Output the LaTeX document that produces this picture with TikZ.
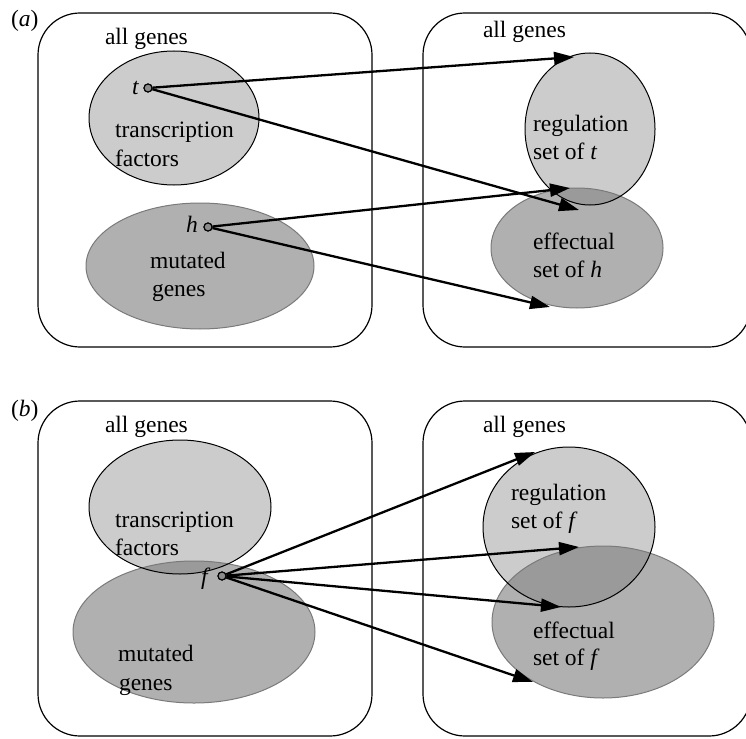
\documentclass[tikz,border=0pt]{standalone}
\usepackage{fontspec}
\setmainfont{Liberation Serif}
\usetikzlibrary{arrows.meta,shapes.geometric}

\definecolor{setlight}{HTML}{CCCCCC}
\definecolor{setdark}{HTML}{B0B0B0}
\definecolor{setboth}{HTML}{9A9A9A}
\definecolor{edgegray}{HTML}{7A7A7A}
\definecolor{dotfill}{HTML}{8C8C8C}

\tikzset{
  panel/.style={draw=black, line width=1.2pt, rounded corners=42pt},
  lightfill/.style={fill=setlight, draw=none},
  darkfill/.style={fill=setdark, draw=none},
  bothfill/.style={fill=setboth, draw=none},
  blackrim/.style={draw=black, line width=1pt},
  grayrim/.style={draw=edgegray, line width=1pt},
  label/.style={anchor=base west, inner sep=0pt, outer sep=0pt,
                font=\fontsize{23.5}{28}\selectfont},
  gene/.style={circle, draw=black, fill=dotfill, line width=1.1pt,
               minimum size=8pt, inner sep=0pt},
  link/.style={line width=2.3pt, -{Triangle[length=20pt,width=13pt]}},
}

\begin{document}
\begin{tikzpicture}[x=1pt, y=-1pt]
\useasboundingbox (0,0) rectangle (746,738);

% ---------------- panel (a) ----------------
\draw[panel] (38,13) rectangle (372,347);
\draw[panel] (423,13) rectangle (751,347);

% fills
\fill[lightfill] (174,118) ellipse [x radius=85pt, y radius=67pt];
\fill[darkfill]  (200,266) ellipse [x radius=114pt, y radius=63pt];
\fill[lightfill] (590,129) ellipse [x radius=65pt, y radius=76pt];
\fill[darkfill]  (577,248) ellipse [x radius=86pt, y radius=60pt];
\begin{scope}
  \clip (590,129) ellipse [x radius=65pt, y radius=76pt];
  \fill[bothfill] (577,248) ellipse [x radius=86pt, y radius=60pt];
\end{scope}
% outlines
\draw[grayrim]  (200,266) ellipse [x radius=114pt, y radius=63pt];
\draw[grayrim]  (577,248) ellipse [x radius=86pt, y radius=60pt];
\draw[blackrim] (174,118) ellipse [x radius=85pt, y radius=67pt];
\draw[blackrim] (590,129) ellipse [x radius=65pt, y radius=76pt];

\node[label] (tagA) at (11,27) {(\textit{a})};
\node[label] (allLA) at (105,45) {all genes};
\node[label] (allRA) at (483,38) {all genes};
\node[label] (tfA1) at (115,138) {transcription};
\node[label] (tfA2) at (115,167) {factors};
\node[label] (mgA1) at (150,268) {mutated};
\node[label] (mgA2) at (152,296) {genes};
\node[label] (rgA1) at (533,132) {regulation};
\node[label] (rgA2) at (533,160) {set of \textit{t}};
\node[label] (efA1) at (533,249) {effectual};
\node[label] (efA2) at (533,277) {set of \textit{h}};

\node[gene] (t) at (148,88) {};
\node[gene] (h) at (208,227) {};
\node[label] (tlab) at (132,95) {\textit{t}};
\node[label] (hlab) at (186,232) {\textit{h}};

\coordinate (tA1) at (574,57);
\coordinate (tA2) at (579,210);
\coordinate (hA1) at (570,188);
\coordinate (hA2) at (550,307);
\draw[link] (t) -- (tA1);
\draw[link] (t) -- (tA2);
\draw[link] (h) -- (hA1);
\draw[link] (h) -- (hA2);
\node[gene] at (t) {};
\node[gene] at (h) {};

% ---------------- panel (b) ----------------
\draw[panel] (38,401) rectangle (372,736);
\draw[panel] (423,401) rectangle (751,736);

% fills
\fill[lightfill] (180,507) ellipse [x radius=91pt, y radius=67pt];
\fill[darkfill]  (194,632) ellipse [x radius=121pt, y radius=71pt];
\begin{scope}
  \clip (180,507) ellipse [x radius=91pt, y radius=67pt];
  \fill[bothfill] (194,632) ellipse [x radius=121pt, y radius=71pt];
\end{scope}
\fill[lightfill] (569,527) ellipse [x radius=86pt, y radius=80pt];
\fill[darkfill]  (603,622) ellipse [x radius=111pt, y radius=76pt];
\begin{scope}
  \clip (569,527) ellipse [x radius=86pt, y radius=80pt];
  \fill[bothfill] (603,622) ellipse [x radius=111pt, y radius=76pt];
\end{scope}
% outlines
\draw[grayrim]  (194,632) ellipse [x radius=121pt, y radius=71pt];
\draw[grayrim]  (603,622) ellipse [x radius=111pt, y radius=76pt];
\draw[blackrim] (180,507) ellipse [x radius=91pt, y radius=67pt];
\draw[blackrim] (569,527) ellipse [x radius=86pt, y radius=80pt];

\node[label] (tagB) at (11,416) {(\textit{b})};
\node[label] (allLB) at (105,432) {all genes};
\node[label] (allRB) at (483,432) {all genes};
\node[label] (tfB1) at (115,527) {transcription};
\node[label] (tfB2) at (115,555) {factors};
\node[label] (mgB1) at (118,661) {mutated};
\node[label] (mgB2) at (119,690) {genes};
\node[label] (rgB1) at (511,500) {regulation};
\node[label] (rgB2) at (511,528) {set of \textit{f}};
\node[label] (efB1) at (533,638) {effectual};
\node[label] (efB2) at (533,665) {set of \textit{f}};

\node[gene] (f) at (222,576) {};
\node[label] (flab) at (201,584) {\textit{f}};

\coordinate (fB1) at (535,452);
\coordinate (fB2) at (579,547);
\coordinate (fB3) at (561,607);
\coordinate (fB4) at (533,682);
\draw[link] (f) -- (fB1);
\draw[link] (f) -- (fB2);
\draw[link] (f) -- (fB3);
\draw[link] (f) -- (fB4);
\node[gene] at (f) {};
\end{tikzpicture}
\end{document}
